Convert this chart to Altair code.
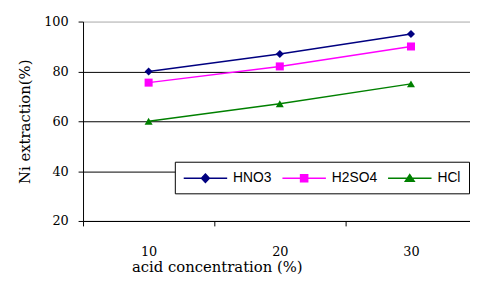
import altair as alt
import pandas as pd

# ---- data ----
concentration = [10, 20, 30]
series_names = ["HNO3", "H2SO4", "HCl"]
hno3 = [80, 87, 95]
h2so4 = [75.5, 82, 90]
hcl = [60, 67, 75]

y_ticks = [20, 40, 60, 80, 100]

# ---- styles ----
colors = ["#000080", "#ff00ff", "#008000"]
shapes = ["diamond", "square", "triangle-up"]
# legend symbols: a line with the marker in its middle (unit = 7.5 px),
# drawn from the symbol's left edge to the right
legend_paths = [
    "M-1,0H4.87M1.93,-0.56L2.46,0L1.93,0.56L1.4,0Z",
    "M-1,0H4.87M1.45,-0.48H2.41V0.48H1.45Z",
    "M-1,0H4.87M1.93,-0.5L2.53,0.42L1.33,0.42Z",
]

rows = []
for name, vals in zip(series_names, [hno3, h2so4, hcl]):
    for c, v in zip(concentration, vals):
        rows.append({"series": name, "conc": c, "value": v})
df = pd.DataFrame(rows)

x_enc = alt.X(
    "conc:Q",
    scale=alt.Scale(domain=[5, 34.5], nice=False, zero=False),
    axis=alt.Axis(
        values=[5, 15, 25],
        labelExpr="'' + (datum.value + 5)",
        labelOffset=66.45,
        labelFlush=False,
        labelOverlap=False,
        labelBound=False,
        labelFont="DejaVu Serif",
        labelFontSize=13,
        labelColor="black",
        labelPadding=20,
        tickSize=5,
        tickColor="black",
        domainColor="black",
        grid=False,
        title="acid concentration (%)",
        titleFont="DejaVu Serif",
        titleFontSize=15,
        titleFontWeight="normal",
        titleColor="black",
        titleX=135.5,
        titleY=51,
        titleAlign="center",
        titleBaseline="alphabetic",
    ),
)

y_enc = alt.Y(
    "value:Q",
    scale=alt.Scale(domain=[20, 100], nice=False, zero=False),
    axis=alt.Axis(
        values=y_ticks,
        labelFont="DejaVu Serif",
        labelFontSize=13,
        labelColor="black",
        labelPadding=10,
        tickSize=5,
        tickColor="black",
        domainColor="black",
        grid=True,
        gridColor={"condition": {"test": "datum.value == 100", "value": "#a8a8a8"}, "value": "black"},
        gridWidth=1,
        title="Ni extraction(%)",
        titleFont="DejaVu Serif",
        titleFontSize=15,
        titleFontWeight="normal",
        titleColor="black",
        titleX=-59,
        titleY=101,
        titleAlign="center",
        titleBaseline="middle",
    ),
)

color_scale = alt.Scale(domain=series_names, range=colors)

base = alt.Chart(df)

lines = base.mark_line(strokeWidth=1.5).encode(
    x=x_enc,
    y=y_enc,
    color=alt.Color("series:N", scale=color_scale, legend=None),
)

points = base.mark_point(filled=True, opacity=1, size=66).encode(
    x=x_enc,
    y=y_enc,
    color=alt.Color("series:N", scale=color_scale, legend=None),
    shape=alt.Shape("series:N", scale=alt.Scale(domain=series_names, range=shapes), legend=None),
)

leg = alt.Legend(
    title=None,
    orient="none",
    legendX=93,
    legendY=142,
    direction="horizontal",
    columns=3,
    columnPadding=8,
    padding=8,
    strokeColor="black",
    fillColor="white",
    cornerRadius=0,
    symbolSize=225,
    symbolStrokeWidth=1.5,
    symbolOpacity=1,
    labelOffset=34,
    labelFont="Liberation Sans",
    labelFontSize=14,
    labelColor="black",
)

legend_layer = base.mark_point(filled=True, opacity=0).encode(
    x=x_enc,
    y=y_enc,
    fill=alt.Fill("series:N", scale=alt.Scale(domain=series_names, range=colors), legend=leg),
    stroke=alt.Stroke("series:N", scale=alt.Scale(domain=series_names, range=colors), legend=leg),
    shape=alt.Shape("series:N", scale=alt.Scale(domain=series_names, range=legend_paths), legend=leg),
)

chart = (
    alt.layer(lines, points, legend_layer)
    .resolve_scale(shape="independent", fill="independent", stroke="independent")
    .properties(
        width=392,
        height=202,
        autosize=alt.AutoSizeParams(type="none"),
        padding={"left": 76, "top": 12, "right": 0, "bottom": 53},
        background="white",
    )
    .configure_view(stroke=None)
)

chart.save("out.html", embed_options={"renderer": "svg", "actions": False})
